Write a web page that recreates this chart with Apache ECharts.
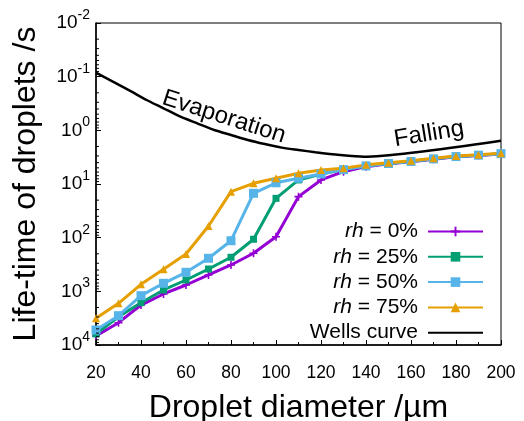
<!DOCTYPE html>
<html>
<head>
<meta charset="utf-8">
<script src="https://cdn.jsdelivr.net/npm/echarts@6/dist/echarts.min.js"></script>
<style>
html,body{margin:0;padding:0;background:#fff;}
#c{width:524px;height:421px;}
</style>
</head>
<body>
<div id="c"></div>
<script>
const diameters = [20,30,40,50,60,70,80,90,100,110,120,130,140,150,160,170,180,190,200];
const rh0  = [6790,3840,1800,1120,762,496,323,195,96,17.2,8.4,5.9,4.75,4.2,3.85,3.45,3.1,2.95,2.75];
const rh25 = [6230,2970,1630,944,615,384,232,107,18.5,8.4,6.5,5.4,4.6,4.15,3.8,3.4,3.08,2.9,2.72];
const rh50 = [5250,2840,1205,708,442,242,114,14.9,9.5,7.8,6.5,5.4,4.6,4.15,3.8,3.4,3.08,2.9,2.72];
const rh75 = [3180,1670,740,388,201,60.6,13.9,9.7,7.8,6.3,5.5,5.1,4.4,4.0,3.68,3.32,3.0,2.84,2.68];
const wellsX = [20,27.5,35,42.5,50,57.5,65,72.5,80,87.5,95,102.5,110,117.5,128.5,139,200];
const wellsY = [0.0843,0.124,0.182,0.272,0.388,0.557,0.740,0.986,1.22,1.51,1.80,2.10,2.32,2.56,2.88,3.10,1.56];
const seriesNames = ['rh = 0%','rh = 25%','rh = 50%','rh = 75%','Wells curve'];
const yDecades = [-2,-1,0,1,2,3,4];
const xTicks = [20,40,60,80,100,120,140,160,180,200];

const FONT = "'Liberation Sans', Arial, sans-serif";
const colors = ['#9400d3','#009e73','#56b4e9','#e69f00','#000000'];

function pairs(xs, ys){ return xs.map((x,i)=>[x, ys[i]]); }

// minor tick values for log axis (2..9 x 10^k)
const minorVals = [];
for (let k = yDecades[0]; k < yDecades[yDecades.length-1]; k++) {
  for (let m = 2; m <= 9; m++) minorVals.push([xTicks[0], m*Math.pow(10,k)]);
}

const plusPath = 'path://M4,0H6V4H10V6H6V10H4V6H0V4H4Z';

function lineSeries(name, data, color, symbol, size){
  return {
    name, type:'line', data, symbol, symbolSize:size, showSymbol:true,
    lineStyle:{color, width:3}, itemStyle:{color}, z:3, animation:false
  };
}

const chart = echarts.init(document.getElementById('c'), null, {renderer:'canvas'});
chart.setOption({
  animation:false,
  textStyle:{fontFamily:FONT},
  grid:{left:96, right:23, top:23, bottom:76, show:true, borderColor:'#000', borderWidth:1,
        backgroundColor:'transparent', containLabel:false, outerBoundsMode:'none'},
  xAxis:{
    type:'value', min:20, max:200, interval:20,
    name:'Droplet diameter /µm', nameLocation:'middle', nameGap:47,
    nameTextStyle:{fontSize:32, color:'#000', fontFamily:FONT},
    axisLine:{show:true, lineStyle:{color:'#000', width:1.5}},
    axisTick:{show:true, inside:true, length:5, lineStyle:{color:'#000', width:1}},
    minorTick:{show:true, splitNumber:2, length:3, lineStyle:{color:'#000', width:1}},
    axisLabel:{fontSize:17.5, color:'#000', margin:19, fontFamily:FONT},
    splitLine:{show:false}
  },
  yAxis:{
    type:'log', logBase:10, min:0.01, max:10000, inverse:true, interval:1,
    name:'Life-time of droplets /s', nameLocation:'middle', nameGap:54,
    nameTextStyle:{fontSize:32, color:'#000', fontFamily:FONT},
    axisLine:{show:true, lineStyle:{color:'#000', width:1.5}},
    axisTick:{show:true, inside:true, length:5, lineStyle:{color:'#000', width:1}},
    minorTick:{show:false},
    axisLabel:{
      color:'#000', margin:6, fontFamily:FONT,
      formatter:function(v){
        const e = Math.round(Math.log10(v));
        return '{b|10}{s|' + e + '}';
      },
      rich:{
        b:{fontSize:19, fontFamily:FONT, color:'#000', lineHeight:30},
        s:{fontSize:14, fontFamily:FONT, color:'#000', verticalAlign:'top', lineHeight:14}
      }
    },
    splitLine:{show:false}
  },
  legend:{
    data:[seriesNames[0],seriesNames[1],seriesNames[2],seriesNames[3],{name:seriesNames[4], itemStyle:{opacity:0}}],
    orient:'vertical', align:'right',
    right:35, top:216, itemWidth:55, itemHeight:12, itemGap:4.3,
    textStyle:{fontSize:21, color:'#000', fontFamily:FONT,
      rich:{i:{fontStyle:'italic', fontSize:21, fontFamily:FONT, color:'#000'},
            n:{fontSize:21, fontFamily:FONT, color:'#000', padding:[0,5,0,0]}}},
    formatter:function(name){
      if (name.indexOf('rh') === 0) return '{i|rh}{n|' + name.slice(2) + '}';
      return '{n|' + name + '}';
    }
  },
  graphic:[
    {type:'text', x:224, y:117, rotation:-0.31, style:{text:'Evaporation', font:'24px ' + FONT, fill:'#000', align:'center', verticalAlign:'middle'}, z:10},
    {type:'text', x:429, y:134, rotation:0.16, style:{text:'Falling', font:'24px ' + FONT, fill:'#000', align:'center', verticalAlign:'middle'}, z:10}
  ],
  series:[
    {
      type:'custom', name:'minorTicks', data:minorVals, silent:true, z:5,
      renderItem:function(params, api){
        const p = api.coord([api.value(0), api.value(1)]);
        return {type:'line', shape:{x1:p[0], y1:p[1], x2:p[0]+3, y2:p[1]}, style:{stroke:'#000', lineWidth:1}};
      }
    },
    lineSeries('rh = 0%', pairs(diameters, rh0), colors[0], plusPath, 8),
    lineSeries('rh = 25%', pairs(diameters, rh25), colors[1], 'rect', 7),
    lineSeries('rh = 50%', pairs(diameters, rh50), colors[2], 'rect', 9),
    lineSeries('rh = 75%', pairs(diameters, rh75), colors[3], 'triangle', 8),
    {name:'Wells curve', type:'line', data:pairs(wellsX, wellsY), symbol:'none', showSymbol:false,
     lineStyle:{color:'#000', width:2.5}, itemStyle:{color:'#000'}, z:4, smooth:0.2}
  ]
});
</script>
</body>
</html>
